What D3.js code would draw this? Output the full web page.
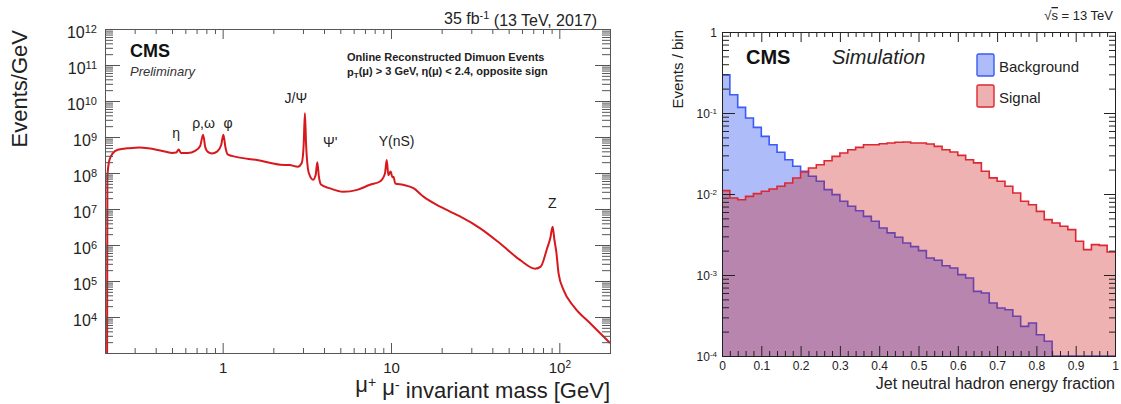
<!DOCTYPE html>
<html lang="en">
<head>
<meta charset="utf-8">
<title>CMS dimuon spectrum / jet neutral hadron fraction</title>
<script src="https://cdnjs.cloudflare.com/ajax/libs/d3/7.8.5/d3.min.js"></script>
<style>
  body { margin: 0; background: #fff; }
  text { font-family: "Liberation Sans", Arial, Helvetica, sans-serif; }
</style>
</head>
<body>
<div id="canvas"></div>
<script>
// left panel: dimuon invariant mass spectrum
var massGeV = [0.2058, 0.2066, 0.2125, 0.2223, 0.238, 0.28, 0.32, 0.36, 0.46, 0.50,
  0.53, 0.548, 0.565, 0.62, 0.69, 0.735, 0.765, 0.79, 0.82, 0.86,
  0.93, 0.98, 1.01, 1.04, 1.07, 1.2, 1.6, 2.2, 2.5, 2.8,
  2.95, 3.03, 3.08, 3.13, 3.25, 3.45, 3.57, 3.65, 3.73, 3.85,
  4.3, 5.2, 6.3, 7.5, 8.6, 9.2, 9.43, 9.65, 9.95, 10.2,
  10.35, 10.6, 11.8, 13.6, 15.6, 18.7, 22.4, 25.7, 33.9, 44.5,
  58.6, 72.0, 77.5, 84.5, 88.5, 91.2, 93.5, 96, 99, 106,
  122, 153, 200];
var eventsPerGeV = [1e3, 7.9e7, 2.3e8, 3.5e8, 4.4e8, 4.9e8, 5.1e8, 4.9e8, 3.9e8, 3.6e8,
  3.7e8, 4.5e8, 3.6e8, 3.6e8, 4.2e8, 5.6e8, 1.15e9, 5.0e8, 3.8e8, 3.5e8,
  4.0e8, 6.0e8, 1.15e9, 5.0e8, 3.3e8, 2.8e8, 2.3e8, 1.7e8, 1.66e8, 1.5e8,
  1.9e8, 6.3e8, 4.6e9, 6.3e8, 1.0e8, 6.5e7, 8.9e7, 2.0e8, 7.9e7, 4.7e7,
  3.8e7, 3.0e7, 3.4e7, 4.7e7, 5.8e7, 9.5e7, 2.3e8, 8.7e7, 1.1e8, 7.6e7,
  7.9e7, 5.1e7, 4.7e7, 3.8e7, 2.2e7, 1.3e7, 8.5e6, 6.2e6, 2.9e6, 1.1e6,
  3.8e5, 2.2e5, 2.5e5, 7.9e5, 1.6e6, 3.2e6, 1.4e6, 6.3e5, 1.6e5, 5.6e4,
  1.95e4, 6.6e3, 1.9e3];
var peakNames = ["η", "ρ,ω", "φ", "J/Ψ", "Ψ'", "Υ(nS)", "Z"];
var peakNameMass = [0.529, 0.77, 1.078, 2.72, 4.36, 10.8, 90.8];
var peakNameEvents = [9.3e8, 1.8e9, 1.8e9, 8.7e9, 5.2e8, 5.6e8, 1.07e7];
var massTicks = [1, 10, 100];
var massTickLabels = [["1", ""], ["10", ""], ["10", "2"]];

// right panel: jet neutral hadron energy fraction, 50 bins of 0.02
var binWidth = 0.02;
var background = [0.297, 0.168, 0.1175, 0.0867, 0.0665, 0.0515, 0.0406, 0.0327, 0.0265, 0.0220,
  0.0191, 0.01656, 0.01435, 0.01132, 0.00982, 0.00813, 0.00705, 0.00622, 0.0053, 0.0046,
  0.0038, 0.00331, 0.00292, 0.00248, 0.00224, 0.0020, 0.00162, 0.00152, 0.0013, 0.00122,
  0.00101, 0.000918, 0.000628, 0.0006, 0.000451, 0.000392, 0.000373, 0.000309, 0.000232, 0.000255,
  0.000183, 0.000152, 0, 0, 0, 0, 0, 0, 0, 0];
var signal = [0.0110, 0.00893, 0.00851, 0.00935, 0.0101, 0.0108, 0.01153, 0.01245, 0.01368, 0.01578,
  0.0187, 0.02094, 0.023, 0.02576, 0.02917, 0.03206, 0.03524, 0.03767, 0.04064, 0.0406,
  0.0418, 0.0427, 0.0435, 0.0439, 0.0427, 0.0427, 0.0414, 0.0387, 0.0352, 0.033,
  0.030, 0.0265, 0.0242, 0.0191, 0.0158, 0.01435, 0.01245, 0.01028, 0.00813, 0.00738,
  0.00611, 0.00482, 0.00439, 0.00399, 0.00363, 0.00261, 0.00206, 0.00237, 0.00232, 0.00192];
var fracTicks = [0, 0.1, 0.2, 0.3, 0.4, 0.5, 0.6, 0.7, 0.8, 0.9, 1];
var fracTickLabels = ["0", "0.1", "0.2", "0.3", "0.4", "0.5", "0.6", "0.7", "0.8", "0.9", "1"];
var binTicks = [1e-4, 1e-3, 1e-2, 1e-1, 1];
var binTickLabels = [["10", "-4"], ["10", "-3"], ["10", "-2"], ["10", "-1"], ["1", ""]];
var legendNames = ["Background", "Signal"];

var blueFill = "rgb(174,188,250)", blueLine = "rgb(60,90,245)";
var redFill = "rgba(205,20,20,0.33)", redFillSolid = "rgb(238,177,177)", redLine = "rgb(220,40,50)";

var svg = d3.select("#canvas").append("svg")
    .attr("width", 1121)
    .attr("height", 404);

function logMinors(e0, e1, lo, hi) {
  var out = [];
  for (var e = e0; e <= e1; e++) {
    for (var k = 2; k <= 9; k++) {
      var v = k * Math.pow(10, e);
      if (v >= lo * 0.999 && v <= hi * 1.001) out.push(v);
    }
  }
  return out;
}

function ticksOnly(g, axis, values, size) {
  g.call(axis.tickValues(values).tickSize(size).tickSizeOuter(0).tickFormat(function () { return ""; }));
  g.select(".domain").remove();
  g.selectAll("text").remove();
}

function supText(sel, base, exp, supSize) {
  sel.text(null);
  sel.append("tspan").text(base);
  if (exp) sel.append("tspan").attr("dy", "-0.5em").attr("font-size", supSize).text(exp);
}

/* ---------- left panel ---------- */
var xL = d3.scaleLog().domain([0.2, 200]).range([105, 610]);
var yL = d3.scaleLog().domain([1e3, 1e12]).range([353, 29]);
var left = svg.append("g").attr("color", "#555");

left.append("clipPath").attr("id", "clipL").append("rect")
    .attr("x", xL.range()[0]).attr("y", yL.range()[1])
    .attr("width", xL.range()[1] - xL.range()[0])
    .attr("height", yL.range()[0] - yL.range()[1]);

var massLine = d3.line()
    .curve(d3.curveMonotoneX)
    .x(function (d, i) { return xL(massGeV[i]); })
    .y(function (d) { return yL(d); });

left.append("path")
    .attr("clip-path", "url(#clipL)")
    .attr("d", massLine(eventsPerGeV))
    .attr("fill", "none")
    .attr("stroke", "rgb(215,25,30)")
    .attr("stroke-width", 2)
    .attr("stroke-linejoin", "round");

var xMinL = logMinors(-1, 2, 0.2, 200).filter(function (v) { return massTicks.indexOf(v) < 0; });
var yMajL = d3.range(3, 13).map(function (e) { return Math.pow(10, e); });
var yMinL = logMinors(3, 11, 1e3, 1e12);

left.append("g").attr("transform", "translate(0," + yL.range()[0] + ")")
    .call(function (g) { ticksOnly(g, d3.axisBottom(xL), xMinL, -5); });
left.append("g").attr("transform", "translate(0," + yL.range()[1] + ")")
    .call(function (g) { ticksOnly(g, d3.axisTop(xL), xMinL, -5); });
left.append("g").attr("transform", "translate(0," + yL.range()[1] + ")")
    .call(function (g) { ticksOnly(g, d3.axisTop(xL), massTicks, -10); });
left.append("g").attr("transform", "translate(" + xL.range()[0] + ",0)")
    .call(function (g) { ticksOnly(g, d3.axisLeft(yL), yMinL, -8); });
left.append("g").attr("transform", "translate(" + xL.range()[1] + ",0)")
    .call(function (g) { ticksOnly(g, d3.axisRight(yL), yMinL, -8); });
left.append("g").attr("transform", "translate(" + xL.range()[1] + ",0)")
    .call(function (g) { ticksOnly(g, d3.axisRight(yL), yMajL, -15); });

var gxL = left.append("g").attr("transform", "translate(0," + yL.range()[0] + ")")
    .call(d3.axisBottom(xL).tickValues(massTicks).tickSize(-10).tickPadding(9).tickSizeOuter(0));
gxL.select(".domain").remove();
gxL.selectAll("text").attr("font-size", 15).attr("fill", "#222")
    .each(function (d, i) { supText(d3.select(this), massTickLabels[i][0], massTickLabels[i][1], 10); });

var gyL = left.append("g").attr("transform", "translate(" + xL.range()[0] + ",0)")
    .call(d3.axisLeft(yL).tickValues(yMajL.slice(1)).tickSize(-15).tickPadding(8).tickSizeOuter(0));
gyL.select(".domain").remove();
gyL.selectAll("text").attr("font-size", 16).attr("fill", "#222").attr("dy", "0.55em")
    .each(function (d) { supText(d3.select(this), "10", String(Math.round(Math.log10(d))), 11); });

left.append("rect")
    .attr("x", xL.range()[0] + 0.5).attr("y", yL.range()[1] + 0.5)
    .attr("width", xL.range()[1] - xL.range()[0])
    .attr("height", yL.range()[0] - yL.range()[1])
    .attr("fill", "none").attr("stroke", "#555");

left.selectAll(".peak")
  .data(peakNames)
  .join("text")
    .attr("class", "peak")
    .attr("x", function (d, i) { return xL(peakNameMass[i]); })
    .attr("y", function (d, i) { return yL(peakNameEvents[i]); })
    .attr("text-anchor", "middle")
    .attr("font-size", 14)
    .attr("fill", "#222")
    .text(function (d) { return d; });

left.append("text").attr("x", 130).attr("y", 57)
    .attr("font-size", 18).attr("font-weight", "bold").attr("fill", "#111").text("CMS");
left.append("text").attr("x", 130).attr("y", 76)
    .attr("font-size", 13).attr("font-style", "italic").attr("fill", "#333").text("Preliminary");

left.append("text").attr("x", 347).attr("y", 61)
    .attr("font-size", 11).attr("font-weight", "bold").attr("fill", "#222")
    .text("Online Reconstructed Dimuon Events");
var cut = left.append("text").attr("x", 347).attr("y", 76)
    .attr("font-size", 11).attr("font-weight", "bold").attr("fill", "#222");
cut.append("tspan").text("p");
cut.append("tspan").attr("dy", "0.3em").attr("font-size", 8).text("T");
cut.append("tspan").attr("dy", "-0.3em").text("(μ) > 3 GeV, η(μ) < 2.4, opposite sign");

var lumi = left.append("text").attr("x", 597).attr("y", 24)
    .attr("text-anchor", "end").attr("font-size", 16).attr("fill", "#222");
lumi.append("tspan").text("35 fb");
lumi.append("tspan").attr("dy", "-0.45em").attr("font-size", 11).text("-1");
lumi.append("tspan").attr("dy", "0.45em").text(" (13 TeV, 2017)");

left.append("text")
    .attr("transform", "translate(27,30) rotate(-90)")
    .attr("text-anchor", "end").attr("font-size", 22).attr("fill", "#222")
    .text("Events/GeV");

var xtitle = left.append("text").attr("x", 610).attr("y", 392)
    .attr("text-anchor", "end").attr("font-size", 22).attr("fill", "#222");
xtitle.append("tspan").text("μ");
xtitle.append("tspan").attr("dy", "-0.35em").attr("font-size", 14).text("+");
xtitle.append("tspan").attr("dy", "0.35em").text(" μ");
xtitle.append("tspan").attr("dy", "-0.35em").attr("font-size", 14).text("-");
xtitle.append("tspan").attr("dy", "0.35em").text(" invariant mass [GeV]");

/* ---------- right panel ---------- */
var xR = d3.scaleLinear().domain([0, 1]).range([722, 1115]);
var yR = d3.scaleLog().domain([1e-4, 1]).range([356, 32]).clamp(true);
var right = svg.append("g").attr("color", "#222");

right.append("clipPath").attr("id", "clipR").append("rect")
    .attr("x", xR.range()[0]).attr("y", yR.range()[1])
    .attr("width", xR.range()[1] - xR.range()[0])
    .attr("height", yR.range()[0] - yR.range()[1]);

function steps(values) {
  return values.map(function (v, i) { return [i * binWidth, v]; })
      .concat([[values.length * binWidth, values[values.length - 1]]]);
}
var histArea = d3.area().curve(d3.curveStepAfter)
    .x(function (d) { return xR(d[0]); })
    .y0(yR(1e-4))
    .y1(function (d) { return yR(Math.max(d[1], 1e-4)); });
var histLine = d3.line().curve(d3.curveStepAfter)
    .x(function (d) { return xR(d[0]); })
    .y(function (d) { return yR(Math.max(d[1], 1e-4)); });

var plot = right.append("g").attr("clip-path", "url(#clipR)");
plot.append("path").attr("d", histArea(steps(background))).attr("fill", blueFill);
plot.append("path").attr("d", histLine(steps(background)))
    .attr("fill", "none").attr("stroke", blueLine).attr("stroke-width", 1.6);
plot.append("path").attr("d", histArea(steps(signal))).attr("fill", redFill);
plot.append("path").attr("d", histLine(steps(signal)))
    .attr("fill", "none").attr("stroke", redLine).attr("stroke-width", 1.6);

var xMinR = d3.range(0, 51).map(function (i) { return i * 0.02; })
    .filter(function (v, i) { return i % 5 !== 0; });
var yMinR = logMinors(-4, -1, 1e-4, 1);

right.append("g").attr("transform", "translate(0," + yR.range()[0] + ")")
    .call(function (g) { ticksOnly(g, d3.axisBottom(xR), xMinR, -5); });
right.append("g").attr("transform", "translate(0," + yR.range()[1] + ")")
    .call(function (g) { ticksOnly(g, d3.axisTop(xR), xMinR, -5); });
right.append("g").attr("transform", "translate(0," + yR.range()[1] + ")")
    .call(function (g) { ticksOnly(g, d3.axisTop(xR), fracTicks, -10); });
right.append("g").attr("transform", "translate(" + xR.range()[0] + ",0)")
    .call(function (g) { ticksOnly(g, d3.axisLeft(yR), yMinR, -7); });
right.append("g").attr("transform", "translate(" + xR.range()[1] + ",0)")
    .call(function (g) { ticksOnly(g, d3.axisRight(yR), yMinR, -6); });
right.append("g").attr("transform", "translate(" + xR.range()[1] + ",0)")
    .call(function (g) { ticksOnly(g, d3.axisRight(yR), binTicks, -11); });

var gxR = right.append("g").attr("transform", "translate(0," + yR.range()[0] + ")")
    .call(d3.axisBottom(xR).tickValues(fracTicks).tickSize(-10).tickPadding(5).tickSizeOuter(0));
gxR.select(".domain").remove();
gxR.selectAll("text").attr("font-size", 12).attr("fill", "#222")
    .text(function (d, i) { return fracTickLabels[i]; });

var gyR = right.append("g").attr("transform", "translate(" + xR.range()[0] + ",0)")
    .call(d3.axisLeft(yR).tickValues(binTicks).tickSize(-13).tickPadding(5).tickSizeOuter(0));
gyR.select(".domain").remove();
gyR.selectAll("text").attr("font-size", 12).attr("fill", "#222").attr("dy", "0.4em")
    .each(function (d, i) { supText(d3.select(this), binTickLabels[i][0], binTickLabels[i][1], 8); });

right.append("rect")
    .attr("x", xR.range()[0] + 0.5).attr("y", yR.range()[1] + 0.5)
    .attr("width", xR.range()[1] - xR.range()[0])
    .attr("height", yR.range()[0] - yR.range()[1])
    .attr("fill", "none").attr("stroke", "#222");

right.append("text").attr("x", 746).attr("y", 64)
    .attr("font-size", 20).attr("font-weight", "bold").attr("fill", "#111").text("CMS");
right.append("text").attr("x", 832).attr("y", 64)
    .attr("font-size", 20).attr("font-style", "italic").attr("fill", "#222").text("Simulation");

var legend = right.selectAll(".leg")
  .data(legendNames)
  .join("g")
    .attr("class", "leg")
    .attr("transform", function (d, i) { return "translate(977," + (54 + i * 31) + ")"; });
legend.append("rect")
    .attr("width", 17).attr("height", 22).attr("rx", 1.5)
    .attr("fill", function (d, i) { return i === 0 ? blueFill : redFillSolid; })
    .attr("stroke", function (d, i) { return i === 0 ? blueLine : redLine; })
    .attr("stroke-width", 1.4);
legend.append("text")
    .attr("x", 22).attr("y", 18)
    .attr("font-size", 15).attr("fill", "#222")
    .text(function (d) { return d; });

var sqrts = right.append("text").attr("x", 1113).attr("y", 20)
    .attr("text-anchor", "end").attr("font-size", 13).attr("fill", "#222");
sqrts.append("tspan").text("√");
sqrts.append("tspan").attr("text-decoration", "overline").text("s");
sqrts.append("tspan").text(" = 13 TeV");

right.append("text")
    .attr("transform", "translate(683,30) rotate(-90)")
    .attr("text-anchor", "end").attr("font-size", 15).attr("fill", "#222")
    .text("Events / bin");

right.append("text").attr("x", 1115).attr("y", 389)
    .attr("text-anchor", "end").attr("font-size", 16).attr("fill", "#222")
    .text("Jet neutral hadron energy fraction");
</script>
</body>
</html>
